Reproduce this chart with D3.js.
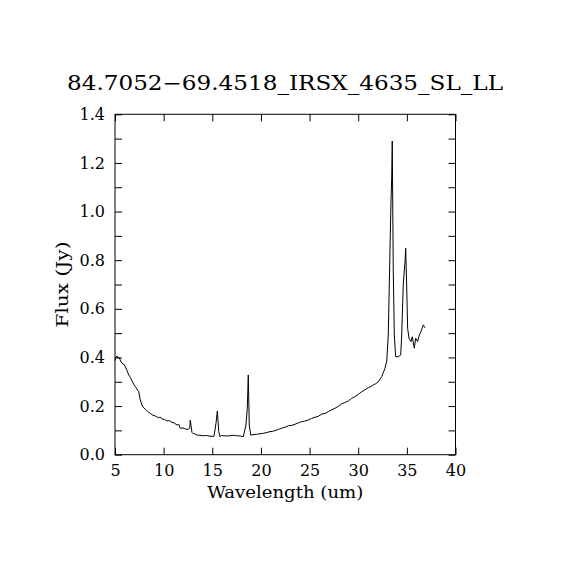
<!DOCTYPE html>
<html>
<head>
<meta charset="utf-8">
<script src="https://cdn.jsdelivr.net/npm/d3@7"></script>
<style>
body { margin: 0; background: #fff; }
text { font-family: "DejaVu Serif", "Liberation Serif", serif; fill: #000; }
</style>
</head>
<body>
<div id="chart-area"></div>
<script>
// spectrum
var wavelength = [5.0, 5.1, 5.2, 5.32, 5.44, 5.58, 5.72, 5.9, 6.06, 6.25, 6.41, 6.58, 6.75, 6.92, 7.09, 7.25, 7.44,
  7.6, 7.85, 8.11, 8.35, 8.63, 8.9, 9.14, 9.3, 9.49, 9.65, 9.83, 10.1, 10.34, 10.6, 10.86, 11.1, 11.37, 11.55,
  11.71, 12.0, 12.23, 12.4, 12.58, 12.68, 12.74, 12.82, 12.91, 13.0, 13.2, 13.4, 13.7, 14.08, 14.4, 14.76, 15.18,
  15.38, 15.52, 15.66, 15.79, 15.95, 16.13, 16.5, 16.82, 17.2, 17.51, 17.9, 18.19, 18.46, 18.6, 18.7, 18.8, 18.95,
  19.3, 19.56, 19.9, 20.24, 20.6, 20.93, 21.2, 21.45, 21.8, 22.13, 22.5, 22.81, 23.2, 23.5, 23.85, 24.19, 24.5,
  24.87, 25.2, 25.56, 25.9, 26.25, 26.6, 26.92, 27.3, 27.61, 27.95, 28.3, 28.6, 28.98, 29.3, 29.67, 30.0, 30.36,
  30.7, 31.04, 31.3, 31.55, 31.8, 32.06, 32.41, 32.75, 32.93, 33.09, 33.27, 33.37, 33.44, 33.5, 33.6, 33.71, 33.85,
  34.12, 34.37, 34.47, 34.63, 34.81, 34.88, 34.98, 35.08, 35.22, 35.42, 35.56, 35.76, 35.91, 36.11, 36.28, 36.45,
  36.69, 36.86];
var flux = [0.387, 0.40, 0.406, 0.398, 0.40, 0.385, 0.376, 0.372, 0.362, 0.345, 0.328, 0.318, 0.303, 0.29, 0.28, 0.27, 0.259,
  0.225, 0.197, 0.187, 0.178, 0.170, 0.162, 0.159, 0.156, 0.152, 0.155, 0.147, 0.145, 0.139, 0.140, 0.133, 0.130, 0.122, 0.125,
  0.109, 0.11, 0.106, 0.104, 0.106, 0.11, 0.143, 0.12, 0.092, 0.088, 0.086, 0.081, 0.08, 0.078, 0.079, 0.076, 0.076,
  0.129, 0.18, 0.095, 0.074, 0.079, 0.078, 0.077, 0.078, 0.080, 0.078, 0.077, 0.074, 0.122, 0.19, 0.328, 0.122, 0.081,
  0.083, 0.084, 0.086, 0.088, 0.091, 0.095, 0.096, 0.099, 0.104, 0.109, 0.113, 0.119, 0.121, 0.125, 0.131, 0.136, 0.138,
  0.143, 0.149, 0.154, 0.158, 0.167, 0.170, 0.177, 0.185, 0.191, 0.199, 0.209, 0.214, 0.221, 0.231, 0.239, 0.248, 0.259,
  0.267, 0.276, 0.280, 0.287, 0.292, 0.30, 0.321, 0.355, 0.385, 0.492, 0.849, 1.041, 1.137, 1.29, 0.767, 0.492, 0.403,
  0.403, 0.41, 0.492, 0.698, 0.794, 0.849, 0.698, 0.52, 0.479, 0.465, 0.485, 0.438, 0.479, 0.465, 0.492, 0.506,
  0.534, 0.522];

var xTicks = [5, 10, 15, 20, 25, 30, 35, 40];
var yTicks = [0, 0.2, 0.4, 0.6, 0.8, 1.0, 1.2, 1.4];
var yMinor = [0.1, 0.3, 0.5, 0.7, 0.9, 1.1, 1.3];
var title = "84.7052\u221269.4518_IRSX_4635_SL_LL";

var margin = {top: 114.3, left: 115};
var width = 340.5;
var height = 340.4;

var data = wavelength.map((w, i) => ({w: w, f: flux[i]}));

var svg = d3.select("#chart-area").append("svg")
	.attr("width", 570)
	.attr("height", 570);

svg.append("rect").attr("width", 570).attr("height", 570).attr("fill", "white");

var g = svg.append("g")
	.attr("transform", "translate(" + margin.left + ", " + margin.top + ")");

var x = d3.scaleLinear().domain([5, 40]).range([0, width]);
var y = d3.scaleLinear().domain([0, 1.4]).range([height, 0]);

// frame ticks on all four sides, pointing inward
g.append("g").attr("transform", "translate(0," + height + ")")
	.call(d3.axisBottom(x).tickValues(xTicks).tickSizeInner(-7).tickSizeOuter(0).tickPadding(10).tickFormat(d3.format("d")))
	.call(a => a.select(".domain").remove())
	.selectAll("text").attr("font-size", "16px").attr("dy", "0.71em");

g.append("g")
	.call(d3.axisTop(x).tickValues(xTicks).tickSizeInner(-7).tickSizeOuter(0).tickFormat(""))
	.call(a => a.select(".domain").remove());

g.append("g")
	.call(d3.axisLeft(y).tickValues(yTicks).tickSizeInner(-7).tickSizeOuter(0).tickPadding(10).tickFormat(d3.format(".1f")))
	.call(a => a.select(".domain").remove())
	.selectAll("text").attr("font-size", "16px");

g.append("g")
	.call(d3.axisLeft(y).tickValues(yMinor).tickSizeInner(-7).tickSizeOuter(0).tickFormat(""))
	.call(a => a.select(".domain").remove());

g.append("g").attr("transform", "translate(" + width + ",0)")
	.call(d3.axisRight(y).tickValues(yTicks.concat(yMinor)).tickSizeInner(-7).tickSizeOuter(0).tickFormat(""))
	.call(a => a.select(".domain").remove());

g.selectAll(".tick line").attr("stroke", "black");

g.append("rect")
	.attr("width", width).attr("height", height)
	.attr("fill", "none").attr("stroke", "black").attr("stroke-width", 1);

var line = d3.line().x(d => x(d.w)).y(d => y(d.f));

g.append("path")
	.datum(data)
	.attr("d", line)
	.attr("fill", "none")
	.attr("stroke", "black")
	.attr("stroke-width", 1);

svg.append("text")
	.attr("x", 285).attr("y", 90)
	.attr("text-anchor", "middle")
	.attr("font-size", "20px")
	.attr("textLength", 436)
	.attr("lengthAdjust", "spacingAndGlyphs")
	.text(title);

svg.append("text")
	.attr("x", margin.left + width / 2).attr("y", 498)
	.attr("text-anchor", "middle")
	.attr("font-size", "17px")
	.attr("textLength", 156)
	.attr("lengthAdjust", "spacingAndGlyphs")
	.text("Wavelength (um)");

svg.append("text")
	.attr("transform", "translate(68," + (margin.top + height / 2) + ") rotate(-90)")
	.attr("text-anchor", "middle")
	.attr("font-size", "17px")
	.attr("textLength", 86)
	.attr("lengthAdjust", "spacingAndGlyphs")
	.text("Flux (Jy)");
</script>
</body>
</html>
